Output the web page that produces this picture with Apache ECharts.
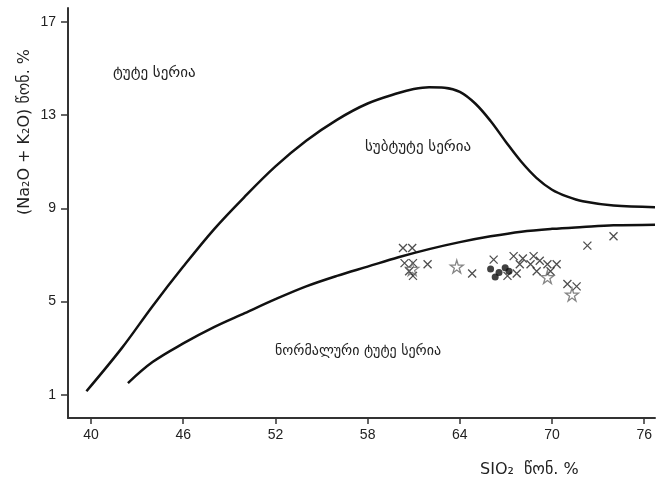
<!DOCTYPE html>
<html>
<head>
<meta charset="utf-8">
<script src="https://cdn.jsdelivr.net/npm/echarts@6/dist/echarts.min.js"></script>
<style>html,body{margin:0;padding:0;background:#fff}#c{width:667px;height:487px}</style>
</head>
<body>
<div id="c"></div>
<script>
// ---- data ----
var xTicks = [40, 46, 52, 58, 64, 70, 76];
var yTicks = [1, 5, 9, 13, 17];
var upperCurve = [
  [39.7, 1.15], [42, 3.0], [44, 4.8], [46, 6.5], [48, 8.1], [50, 9.5], [52, 10.8],
  [54, 11.9], [56, 12.8], [58, 13.5], [60, 13.95], [61, 14.12], [62, 14.2], [63, 14.18],
  [64, 14.0], [65, 13.5], [66, 12.75], [67, 11.85], [68, 11.0], [69, 10.3], [70, 9.8],
  [71, 9.5], [72, 9.3], [74, 9.12], [76.7, 9.05]
];
var lowerCurve = [
  [42.4, 1.5], [44, 2.4], [46, 3.2], [48, 3.9], [50, 4.5], [52, 5.1], [54, 5.65],
  [56, 6.1], [58, 6.5], [60, 6.9], [62, 7.25], [64, 7.55], [66, 7.8], [68, 8.0],
  [70, 8.12], [72, 8.2], [74, 8.27], [76.7, 8.3]
];
var crosses = [
  [60.3, 7.3], [60.9, 7.3], [60.4, 6.65], [60.95, 6.65], [61.9, 6.6], [60.7, 6.3],
  [60.95, 6.1], [64.8, 6.2], [66.2, 6.8], [67.5, 6.95], [68.1, 6.85], [68.8, 6.95],
  [67.9, 6.6], [68.6, 6.6], [69.2, 6.75], [69.7, 6.6], [70.3, 6.6], [69.0, 6.3],
  [67.7, 6.2], [67.1, 6.1], [69.9, 6.3], [72.3, 7.4], [74.0, 7.8], [71.0, 5.75], [71.6, 5.65]
];
var stars = [[60.9, 6.4], [63.8, 6.5], [69.7, 6.05], [71.3, 5.3]];
var dots = [[66.0, 6.4], [66.3, 6.05], [66.55, 6.25], [66.95, 6.45], [67.2, 6.3]];
var labels = ['ტუტე სერია', 'სუბტუტე სერია', 'ნორმალური ტუტე სერია'];

var chart = echarts.init(document.getElementById('c'));
var axisCol = '#333';
var FONT = 'Liberation Sans, DejaVu Sans, sans-serif';
var GEO = 'DejaVu Sans, sans-serif';
chart.setOption({
  animation: false,
  backgroundColor: '#fff',
  grid: { left: 68, right: 12, top: 8, bottom: 69 },
  xAxis: {
    type: 'value', min: 38.5, max: 76.7,
    axisLine: { show: true, onZero: false, lineStyle: { color: axisCol, width: 2 } },
    axisTick: { show: true, length: 6, customValues: xTicks, lineStyle: { color: axisCol, width: 1.5 } },
    axisLabel: { customValues: xTicks, color: '#222', fontSize: 14, fontFamily: FONT, margin: 10 },
    splitLine: { show: false }
  },
  yAxis: {
    type: 'value', min: 0, max: 17.6,
    axisLine: { show: true, onZero: false, lineStyle: { color: axisCol, width: 2 } },
    axisTick: { show: true, length: 7, customValues: yTicks, lineStyle: { color: axisCol, width: 1.5 } },
    axisLabel: { customValues: yTicks, color: '#222', fontSize: 14, fontFamily: FONT, margin: 12 },
    splitLine: { show: false }
  },
  series: [
    { type: 'line', data: upperCurve, smooth: 0.35, showSymbol: false, lineStyle: { color: '#111', width: 2.5 } },
    { type: 'line', data: lowerCurve, smooth: 0.35, showSymbol: false, lineStyle: { color: '#111', width: 2.5 } },
    { type: 'scatter', data: crosses, symbol: 'path://M0,0L10,10M10,0L0,10', symbolSize: 8,
      itemStyle: { color: 'rgba(0,0,0,0)', borderColor: '#222', borderWidth: 1.3 } },
    { type: 'scatter', data: stars, symbol: 'path://M50,0 L61,35 L98,35 L68,57 L79,91 L50,70 L21,91 L32,57 L2,35 L39,35 Z', symbolSize: 13,
      itemStyle: { color: 'rgba(0,0,0,0)', borderColor: '#666', borderWidth: 1.3 } },
    { type: 'scatter', data: dots, symbol: 'circle', symbolSize: 7,
      itemStyle: { color: '#111' } }
  ],
  graphic: [
    { type: 'text', x: 113, y: 73, style: { text: labels[0], font: '15px ' + GEO, fill: '#222', verticalAlign: 'middle' } },
    { type: 'text', x: 365, y: 147, style: { text: labels[1], font: '15px ' + GEO, fill: '#222', verticalAlign: 'middle' } },
    { type: 'text', x: 275, y: 351, style: { text: labels[2], font: '14px ' + GEO, fill: '#222', verticalAlign: 'middle' } },
    { type: 'text', x: 25, y: 132, rotation: Math.PI / 2,
      style: { text: '(Na₂O + K₂O) წონ. %', font: '16px ' + GEO, fill: '#222', align: 'center', verticalAlign: 'middle' } },
    { type: 'text', x: 480, y: 470,
      style: { text: 'SIO₂  წონ. %', font: '16px ' + GEO, fill: '#222', verticalAlign: 'middle' } }
  ]
});
</script>
</body>
</html>
